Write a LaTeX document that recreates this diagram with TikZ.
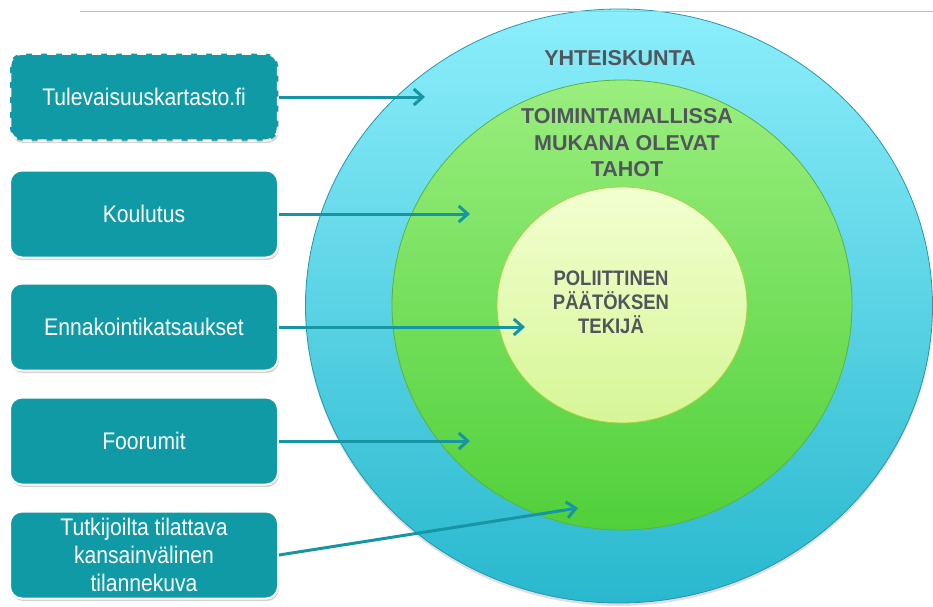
\documentclass[tikz,border=0pt]{standalone}
\usepackage{fontspec}
\setmainfont{Liberation Sans}
\newfontfamily\narrowfont{Liberation Sans}[FakeStretch=0.88]
\usetikzlibrary{shapes.geometric,arrows.meta,shadows,positioning}
\definecolor{boxteal}{RGB}{16,154,165}
\definecolor{arrowteal}{RGB}{22,150,162}
\definecolor{ringtop}{RGB}{140,238,251}
\definecolor{ringbottom}{RGB}{40,184,206}
\definecolor{ringedge}{RGB}{40,150,170}
\definecolor{greentop}{RGB}{154,238,126}
\definecolor{greenbottom}{RGB}{80,208,58}
\definecolor{greenedge}{RGB}{90,180,60}
\definecolor{coretop}{RGB}{242,255,208}
\definecolor{corebottom}{RGB}{214,246,150}
\definecolor{coreedge}{RGB}{170,210,60}
\definecolor{labelgray}{RGB}{82,86,92}
\definecolor{topline}{RGB}{130,212,222}

\tikzset{
    infobox/.style={rectangle, rounded corners=12pt, fill=boxteal, draw=white,
        line width=2pt, minimum width=268pt, minimum height=87pt, align=center,
        text=white, font=\narrowfont\fontsize{24}{28}\selectfont,
        drop shadow={opacity=0.35, shadow xshift=1pt, shadow yshift=-2.5pt}},
    dashbox/.style={infobox, dash pattern=on 9pt off 6pt, line width=2.5pt},
    ring/.style={ellipse, inner sep=0pt, line width=0.8pt},
    ringlabel/.style={text=labelgray, align=center,
        font=\bfseries\fontsize{21.5}{26.5}\selectfont},
    feed/.style={draw=arrowteal, line width=3pt,
        -{Straight Barb[length=9pt,width=16pt]}}
}

\begin{document}
\begin{tikzpicture}[x=1pt,y=-1pt]
    \useasboundingbox (0,0) rectangle (933,606);

    % Circles
    \node[ring, draw=ringedge, top color=ringtop, bottom color=ringbottom,
        minimum width=627pt, minimum height=594pt,
        drop shadow={opacity=0.25, shadow xshift=0pt, shadow yshift=-3pt}] (society) at (619,306) {};
    \node[ring, draw=greenedge, top color=greentop, bottom color=greenbottom,
        minimum width=460pt, minimum height=450pt] (actors) at (622,305) {};
    \node[ring, draw=coreedge, top color=coretop, bottom color=corebottom,
        minimum width=250pt, minimum height=236pt] (decider) at (622,305) {};

    \draw[topline, line width=1pt] (80,11) -- (933,11);

    % Circle labels
    \node[ringlabel] (societylbl) at (620,58) {YHTEISKUNTA};
    \node[ringlabel] (actorslbl) at (627,143) {TOIMINTAMALLISSA\\MUKANA OLEVAT\\TAHOT};
    \node[ringlabel, font=\narrowfont\bfseries\fontsize{21}{24}\selectfont] (deciderlbl) at (611,302)
        {POLIITTINEN\\PÄÄTÖKSEN\\TEKIJÄ};

    % Boxes
    \node[dashbox] (map) at (144,97) {Tulevaisuuskartasto.fi};
    \node[infobox] (training) at (144,214) {Koulutus};
    \node[infobox] (reviews) at (144,327) {Ennakointikatsaukset};
    \node[infobox] (forums) at (144,441) {Foorumit};
    \node[infobox] (picture) at (144,555) {Tutkijoilta tilattava\\kansainvälinen\\tilannekuva};

    % Arrow ends
    \coordinate (mapend) at (425,97);
    \coordinate (trainingend) at (470,214);
    \coordinate (reviewsend) at (525,327);
    \coordinate (forumsend) at (470,441);
    \coordinate (pictureend) at (578,508);

    \draw[feed] (map.east) -- (mapend);
    \draw[feed] (training.east) -- (trainingend);
    \draw[feed] (reviews.east) -- (reviewsend);
    \draw[feed] (forums.east) -- (forumsend);
    \draw[feed] (picture.east) -- (pictureend);
\end{tikzpicture}
\end{document}
